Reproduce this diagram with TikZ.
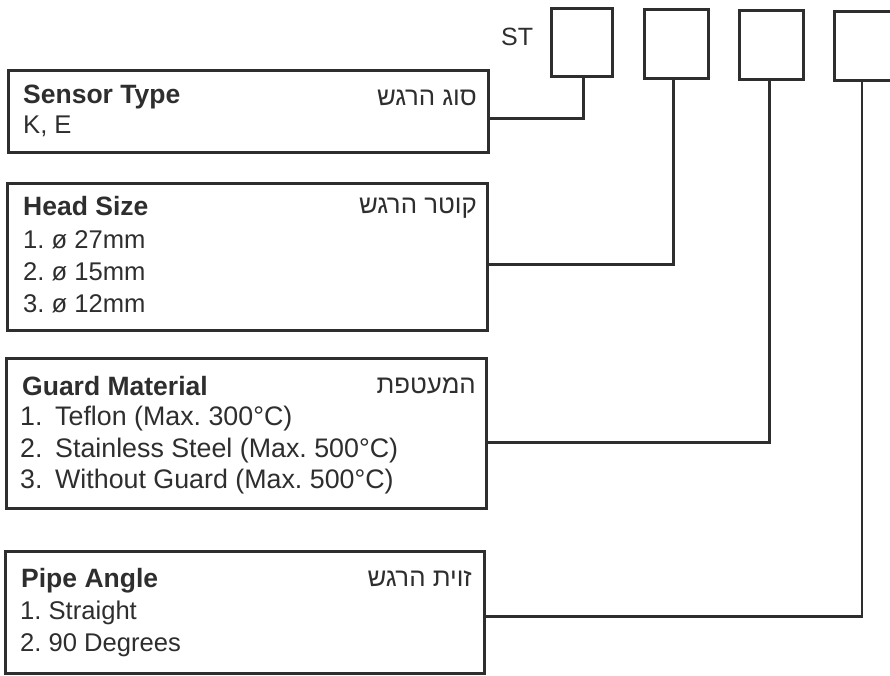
\documentclass[tikz,border=0pt]{standalone}
\usepackage{fontspec}
\setmainfont{Liberation Sans}
\newfontfamily\hebfont[Script=Hebrew]{Liberation Sans}
\TeXXeTstate=1
\definecolor{ink}{HTML}{2E2E2E}
\begin{document}
\frenchspacing
\begin{tikzpicture}[x=1pt,y=-1pt,
  bigbox/.style={draw=ink, line width=2.6pt, inner sep=0pt, anchor=north west},
  smallbox/.style={draw=ink, line width=2.6pt, inner sep=0pt, anchor=north west},
  ttl/.style={anchor=base west, inner sep=0pt, text=ink, font=\fontsize{26.5}{31}\selectfont\bfseries},
  itm/.style={anchor=base west, inner sep=0pt, text=ink, font=\fontsize{25.6}{30}\selectfont},
  gitm/.style={anchor=base west, inner sep=0pt, text=ink, font=\fontsize{26.8}{30}\selectfont},
  heb/.style={anchor=base east, inner sep=0pt, text=ink, font=\hebfont\fontsize{25.8}{30}\selectfont},
  conn/.style={draw=ink, line width=2.4pt}]
\useasboundingbox (0,0) rectangle (890,675);
\fill[white] (0,0) rectangle (890,675);
\clip (0,0) rectangle (890,675);

% code boxes
\node[itm, font=\fontsize{25}{30}\selectfont] (st) at (501,45) {ST};
\node[smallbox, minimum width=61pt, minimum height=68pt] (sA) at (550,7) {};
\node[smallbox, minimum width=64pt, minimum height=69pt] (sB) at (643,8) {};
\node[smallbox, minimum width=64pt, minimum height=69pt] (sC) at (738,9) {};
\node[smallbox, minimum width=64pt, minimum height=69pt] (sD) at (833,10) {};

% option boxes
\node[bigbox, minimum width=480pt, minimum height=82pt] (b1) at (7,69) {};
\node[bigbox, minimum width=480pt, minimum height=147pt] (b2) at (6,182) {};
\node[bigbox, minimum width=480pt, minimum height=150pt] (b3) at (5,357) {};
\node[bigbox, minimum width=479pt, minimum height=122pt] (b4) at (4,550) {};

% box 1
\node[ttl] (t1) at (23,103) {Sensor Type};
\node[itm] (t1a) at (23,133) {K, E};
\node[heb] (h1) at (477,105) {\beginR סוג הרגש\endR};

% box 2
\node[ttl] (t2) at (23,215) {Head Size};
\node[itm] (t2a) at (23,248) {1. ø 27mm};
\node[itm] (t2b) at (23,280) {2. ø 15mm};
\node[itm] (t2c) at (23,312) {3. ø 12mm};
\node[heb] (h2) at (477,213) {\beginR קוטר הרגש\endR};

% box 3
\node[ttl] (t3) at (22,395) {Guard Material};
\node[gitm] (t3a) at (20,425) {\makebox[35pt][l]{1.}Teflon (Max. 300°C)};
\node[gitm] (t3b) at (20,457) {\makebox[35pt][l]{2.}Stainless Steel (Max. 500°C)};
\node[gitm] (t3c) at (20,488) {\makebox[35pt][l]{3.}Without Guard (Max. 500°C)};
\node[heb] (h3) at (476,393) {\beginR המעטפת\endR};

% box 4
\node[ttl] (t4) at (21,587) {Pipe Angle};
\node[itm] (t4a) at (20,619) {1. Straight};
\node[itm] (t4b) at (20,651) {2. 90 Degrees};
\node[heb] (h4) at (472,586) {\beginR זוית הרגש\endR};

% connectors
\draw[conn] ([yshift=-7pt]b1.east) -| ([xshift=1.5pt]sA.south);
\draw[conn] ([yshift=-7.5pt]b2.east) -| ([xshift=-3pt]sB.south);
\draw[conn] ([yshift=-9pt]b3.east) -| ([xshift=-2pt]sC.south);
\draw[conn] ([yshift=-4pt]b4.east) -| ([xshift=-4.5pt]sD.south);
\end{tikzpicture}
\end{document}
